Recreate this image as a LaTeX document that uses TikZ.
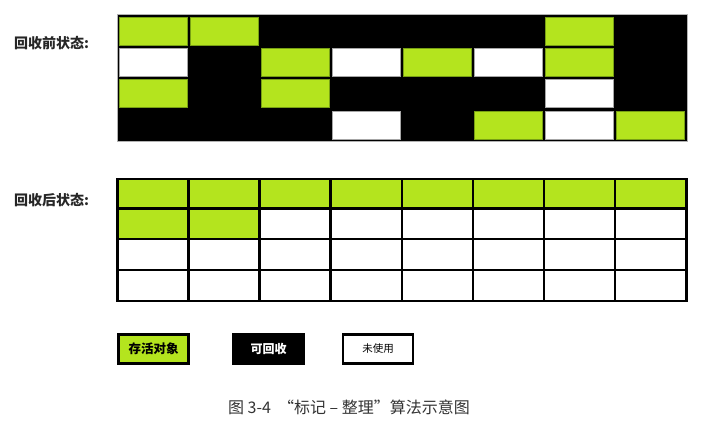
\documentclass[tikz,border=0pt]{standalone}
\usepackage{fontspec}
\newfontfamily\cjk{Noto Sans CJK SC}
\definecolor{livegreen}{RGB}{180,228,30}
\definecolor{greenedge}{RGB}{120,160,20}
\tikzset{
  gcell/.style={fill=livegreen,draw=greenedge,line width=0.6pt},
  wcell/.style={fill=white,draw=gray!70,line width=0.8pt},
  legbox/.style={draw=black,line width=2.5pt,minimum width=70pt,minimum height=29pt,inner sep=0pt,font=\cjk\bfseries\fontsize{12.5}{14}\selectfont},
  lbl/.style={font=\cjk\bfseries\fontsize{14}{16}\selectfont,anchor=west,inner sep=0pt,text=black!85}
}
\begin{document}
\begin{tikzpicture}[x=1pt,y=-1pt]
\useasboundingbox (0,0) rectangle (725,426);
% labels
\node[lbl] (before) at (14,43) {回收前状态:};
\node[lbl] (after) at (14,200.5) {回收后状态:};
% top grid
\draw[fill=black,draw=gray!60,line width=1pt] (117,14) rectangle (687,141);
\foreach \c/\r in {1/1,2/1,7/1, 3/2,5/2,7/2, 1/3,3/3, 6/4,8/4}{
  \draw[gcell] ({119+(\c-1)*71},{17+(\r-1)*31.3}) rectangle ++(68.3,28);
}
\foreach \c/\r in {1/2,4/2,6/2, 7/3, 4/4,7/4}{
  \draw[wcell] ({119+(\c-1)*71},{17+(\r-1)*31.3}) rectangle ++(68.3,28);
}
% bottom grid
\fill[livegreen] (117.3,179) rectangle (686.3,208.5);
\fill[livegreen] (117.3,208.5) rectangle ({117.3+2*71.1},239);
\draw[line width=2.4pt,line cap=rect] (117.3,179) rectangle (686.3,301);
\foreach \i in {1,...,7}{
  \draw[line width=2.4pt] ({117.3+\i*71.1},179) -- ({117.3+\i*71.1},301);
}
\foreach \y in {208.5,239,270}{
  \draw[line width=2.4pt] (117.3,\y) -- (686.3,\y);
}
% legend
\node[legbox,fill=livegreen] (live) at (153.5,349) {存活对象};
\node[legbox,fill=black,text=white,font=\cjk\bfseries\fontsize{12}{14}\selectfont] (recl) at (268.5,349) {可回收};
\node[legbox,fill=white,font=\cjk\fontsize{10.5}{12}\selectfont] (unused) at (378,349) {未使用};
% caption
\node[font=\cjk\fontsize{16}{18}\selectfont,text=black!80] (cap) at (349,407) {图 3-4\ \ “标记 – 整理”算法示意图};
\end{tikzpicture}
\end{document}
